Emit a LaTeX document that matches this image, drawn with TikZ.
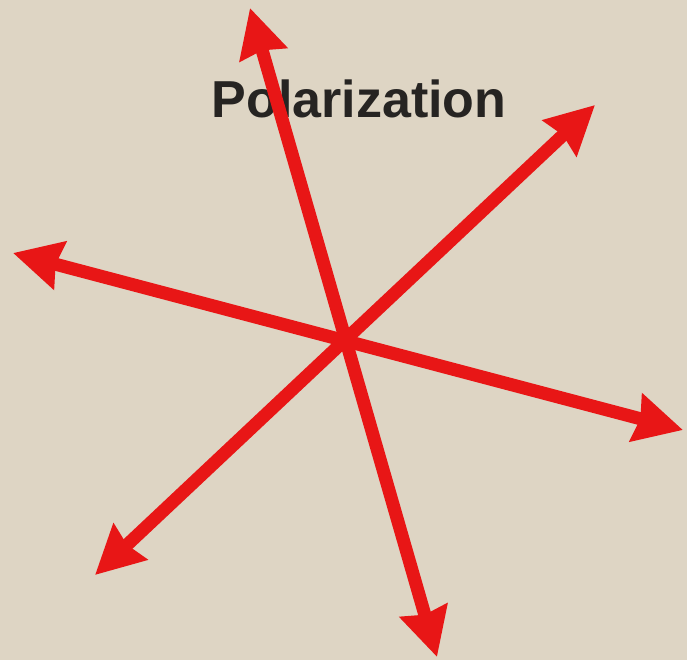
\documentclass[tikz,border=0pt]{standalone}
\usepackage{fontspec}
\setmainfont{Liberation Sans}
\usetikzlibrary{arrows.meta}
\definecolor{bg}{RGB}{222,213,196}
\definecolor{arrowred}{RGB}{232,22,22}
\definecolor{txt}{RGB}{38,36,34}
\tikzset{
  polarrow/.style={draw=arrowred, line width=13pt,
    {Stealth[length=48pt,width=48pt,inset=4pt]}-{Stealth[length=48pt,width=48pt,inset=4pt]}},
  label/.style={font=\fontsize{52}{52}\selectfont\bfseries, text=txt, inner sep=0pt}
}
\begin{document}
\begin{tikzpicture}[x=1pt,y=-1pt]
\fill[bg] (0,0) rectangle (687,660);
\useasboundingbox (0,0) rectangle (687,660);
\node[label, anchor=base] (title) at (359,118) {Polarization};
\coordinate (a1) at (250,8);
\coordinate (a2) at (437,657);
\coordinate (b1) at (595,105);
\coordinate (b2) at (95,575);
\coordinate (c1) at (13,253);
\coordinate (c2) at (683,430);
\draw[polarrow] (a1) -- (a2);
\draw[polarrow] (b1) -- (b2);
\draw[polarrow] (c1) -- (c2);
\end{tikzpicture}
\end{document}
